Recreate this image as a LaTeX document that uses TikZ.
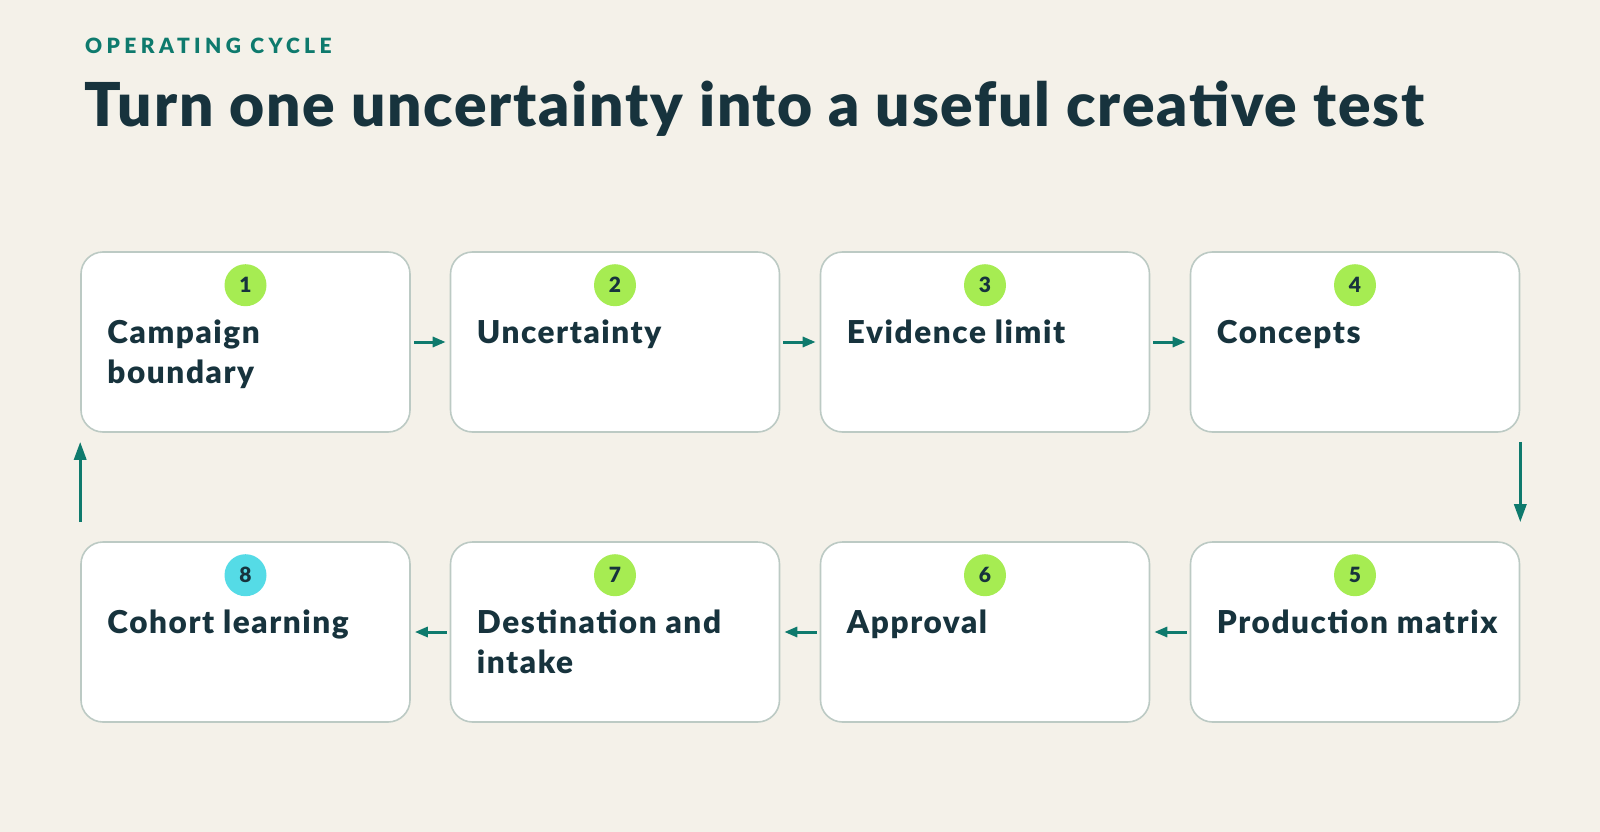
\documentclass[tikz,border=0pt]{standalone}
\usepackage{fontspec}
\setmainfont{Lato}[BoldFont={Lato Black}]
\usetikzlibrary{arrows.meta}
\definecolor{bgc}{HTML}{F4F1E9}
\definecolor{ink}{HTML}{17333D}
\definecolor{teal}{HTML}{0E7A6D}
\definecolor{edge}{HTML}{BCCAC4}
\definecolor{lime}{HTML}{A6EC52}
\definecolor{cyanb}{HTML}{55DBE6}
\tikzset{
  card/.style={draw=edge, line width=1.6pt, fill=white, rounded corners=22pt,
    minimum width=329pt, minimum height=180pt, inner sep=0pt},
  badge/.style={circle, fill=lime, minimum size=42pt, inner sep=0pt,
    font=\fontsize{21}{21}\selectfont\bfseries, text=ink},
  cardtext/.style={anchor=base west, inner sep=0pt, align=left, text=ink,
    font=\fontsize{31.5}{40}\selectfont\bfseries\addfontfeature{LetterSpace=5}},
  flow/.style={draw=teal, line width=3pt, -{Triangle[length=13pt,width=10pt]}},
  vflow/.style={draw=teal, line width=3.2pt, -{Triangle[length=18pt,width=12pt]}},
}
\begin{document}
\begin{tikzpicture}[x=1pt,y=-1pt]
\fill[bgc] (0,0) rectangle (1600,832);
\useasboundingbox (0,0) rectangle (1600,832);
\node[anchor=base west, inner sep=0pt, text=teal, font=\fontsize{21}{22}\selectfont\bfseries\addfontfeature{LetterSpace=21}] (kicker) at (85,54) {OPERATING CYCLE};
\node[anchor=base west, inner sep=0pt, text=ink, font=\fontsize{60.5}{63}\selectfont\bfseries\addfontfeature{LetterSpace=3}] (title) at (84,127) {Turn one uncertainty into a useful creative test};
% cards
\foreach \i/\x/\y in {1/245.5/342,2/615/342,3/985/342,4/1355/342,8/245.5/632,7/615/632,6/985/632,5/1355/632}{
  \node[card] (b\i) at (\x,\y) {};
}
\foreach \i in {1,...,7}{
  \node[badge] (n\i) at ([yshift=-34pt]b\i.north) {\i};
}
\node[badge, fill=cyanb] (n8) at ([yshift=-34pt]b8.north) {8};
\node[cardtext] (t1) at ([xshift=27pt,yshift=-132pt]b1.north west) {Campaign\\boundary};
\node[cardtext] (t2) at ([xshift=27pt,yshift=-92pt]b2.north west) {Uncertainty};
\node[cardtext] (t3) at ([xshift=27pt,yshift=-92pt]b3.north west) {Evidence limit};
\node[cardtext] (t4) at ([xshift=27pt,yshift=-92pt]b4.north west) {Concepts};
\node[cardtext] (t5) at ([xshift=27pt,yshift=-92pt]b5.north west) {Production matrix};
\node[cardtext] (t6) at ([xshift=27pt,yshift=-92pt]b6.north west) {Approval};
\node[cardtext] (t7) at ([xshift=27pt,yshift=-132pt]b7.north west) {Destination and\\intake};
\node[cardtext] (t8) at ([xshift=27pt,yshift=-92pt]b8.north west) {Cohort learning};
% connectors
\draw[flow, shorten <=3pt, shorten >=4pt] (b1.east) -- (b2.west);
\draw[flow, shorten <=3pt, shorten >=4pt] (b2.east) -- (b3.west);
\draw[flow, shorten <=3pt, shorten >=4pt] (b3.east) -- (b4.west);
\draw[vflow, shorten <=9pt, shorten >=19pt] (b4.south east) -- (b5.north east);
\draw[flow, shorten <=3pt, shorten >=4pt] (b5.west) -- (b6.east);
\draw[flow, shorten <=3pt, shorten >=4pt] (b6.west) -- (b7.east);
\draw[flow, shorten <=3pt, shorten >=4pt] (b7.west) -- (b8.east);
\draw[vflow, shorten <=19pt, shorten >=9pt] (b8.north west) -- (b1.south west);
\end{tikzpicture}
\end{document}
